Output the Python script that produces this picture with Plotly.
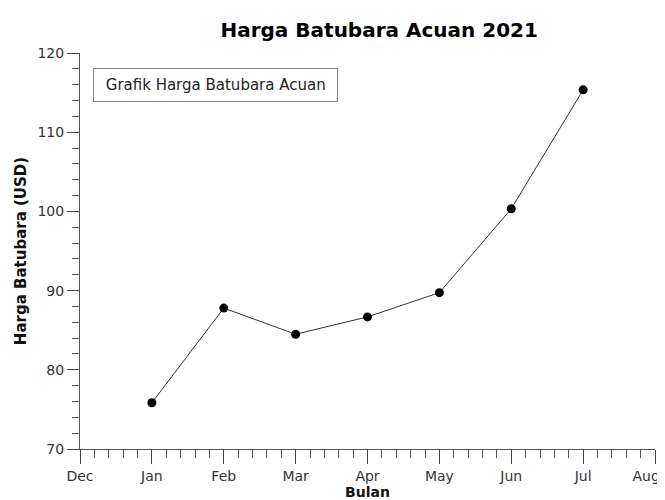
import plotly.graph_objects as go

# Data
months = ["Jan", "Feb", "Mar", "Apr", "May", "Jun", "Jul"]
month_pos = [1, 2, 3, 4, 5, 6, 7]
hba_values = [75.84, 87.79, 84.49, 86.68, 89.74, 100.33, 115.35]
axis_tick_labels = ["Dec", "Jan", "Feb", "Mar", "Apr", "May", "Jun", "Jul", "Aug"]
axis_tick_pos = [0, 1, 2, 3, 4, 5, 6, 7, 8]
y_ticks = [70, 80, 90, 100, 110, 120]

font_family = "DejaVu Sans, Verdana, sans-serif"

# pad the last label so it stays inside the page edge
shown_tick_labels = axis_tick_labels[:-1] + [axis_tick_labels[-1] + "&nbsp;&nbsp;&nbsp;&nbsp;"]

fig = go.Figure()
fig.add_trace(go.Scatter(
    x=month_pos, y=hba_values, mode="lines+markers",
    name="Grafik Harga Batubara Acuan",
    text=months,
    line=dict(color="#333333", width=1),
    marker=dict(color="black", size=9),
    showlegend=False,
))

fig.add_annotation(
    xref="paper", yref="paper", x=0.0226, y=0.962,
    xanchor="left", yanchor="top",
    text="&nbsp;Grafik Harga Batubara Acuan&nbsp;", showarrow=False,
    font=dict(family=font_family, size=15, color="#222222"),
    bordercolor="#888888", borderwidth=1, borderpad=7,
    bgcolor="white",
)

axis_common = dict(
    showgrid=False, zeroline=False, showline=True, automargin=False,
    linecolor="#555555", linewidth=1,
    ticks="outside", tickcolor="#444444", tickwidth=1,
    ticklabeloverflow="allow",
    tickfont=dict(family=font_family, size=14, color="#333333"),
)

fig.update_xaxes(
    range=[0, 8], tickmode="array", tickvals=axis_tick_pos, ticktext=shown_tick_labels,
    ticklen=14,
    minor=dict(dtick=0.2, tick0=0, ticks="outside", ticklen=8, tickcolor="#555555", showgrid=False),
    title=dict(text="<b>Bulan</b>", font=dict(family=font_family, size=14, color="#111111"), standoff=0),
    **axis_common,
)
fig.update_yaxes(
    range=[70, 120], tickmode="array", tickvals=y_ticks,
    ticklen=12,
    minor=dict(dtick=2, tick0=70, ticks="outside", ticklen=7, tickcolor="#555555", showgrid=False),
    title=dict(text="<b>Harga Batubara (USD)</b>", font=dict(family=font_family, size=15, color="#111111"), standoff=7),
    **axis_common,
)

fig.update_layout(
    width=657, height=492,
    margin=dict(l=72, r=10, t=45, b=51),
    paper_bgcolor="white", plot_bgcolor="white",
    title=dict(text="<b>Harga Batubara Acuan 2021</b>", x=0.565, xanchor="center", y=0.955, yanchor="middle",
               automargin=False,
               font=dict(family=font_family, size=20, color="black")),
)

fig.write_html("out.html")
